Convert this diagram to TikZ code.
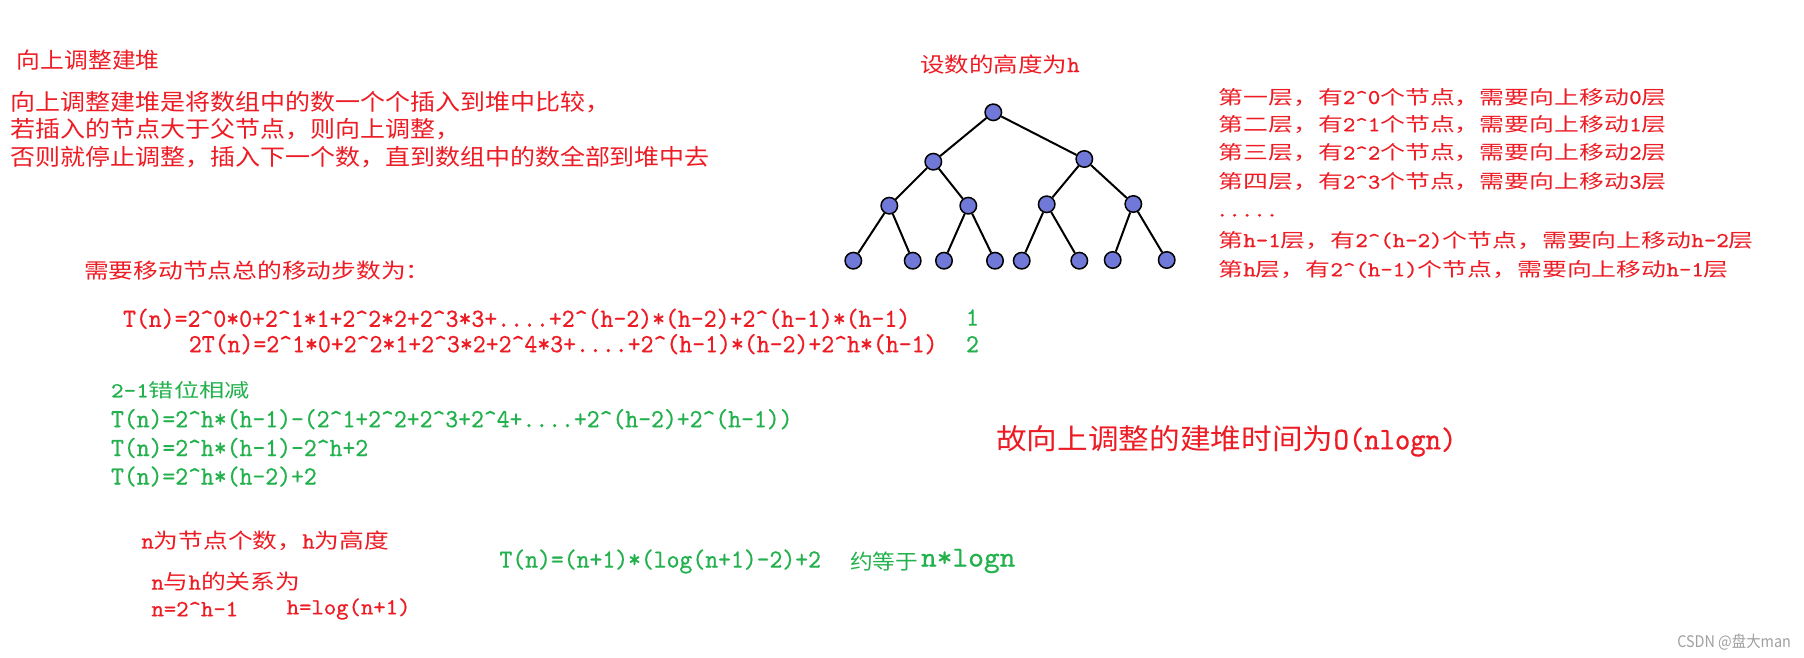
\documentclass[tikz,border=0pt]{standalone}
\usepackage{fontspec}
\setmainfont[Scale=1.113,FakeStretch=0.856,FakeBold=0.6]{lmmono10-regular.otf}
\newfontfamily\cj{Noto Sans CJK SC}
\newfontfamily\wm{Noto Sans CJK SC}
\newcommand\C[1]{{\cj #1}}
\newcommand\ca{\textasciicircum}
\newcommand\fs[1]{\fontsize{#1}{#1}\selectfont}
\definecolor{pr}{RGB}{237,28,36}
\definecolor{pg}{RGB}{34,177,76}
\definecolor{nb}{RGB}{112,120,216}
\definecolor{wg}{RGB}{160,160,160}
\tikzset{
  t/.style={anchor=west, inner sep=0pt, outer sep=0pt},
  tn/.style={circle, draw=black, line width=0.75pt, fill=nb, minimum size=8.25pt, inner sep=0pt},
  ed/.style={line width=1pt, black},
  par/.style={t, pr, font=\fs{11.35pt}, xscale=1.10},
  frm/.style={t, pr, font=\fs{11.75pt}, xscale=1.098},
  grn/.style={t, pg, font=\fs{11.75pt}, xscale=1.094},
  nh/.style={t, pr, font=\fs{10.4pt}, xscale=1.19},
  rb/.style={t, pr, font=\fs{9.5pt}, xscale=1.31},
}
\begin{document}
\begin{tikzpicture}[x=0.5pt, y=-0.5pt]
\fill[white] (0,0) rectangle (1804,658);
\useasboundingbox (0,0) rectangle (1804,658);

% left red texts
\node[t, pr, font=\fs{11pt}, xscale=1.08] (title) at (17,60.3) {\C{向上调整建堆}};
\node[par] (p1) at (10.7,101.7) {\C{向上调整建堆是将数组中的数一个个插入到堆中比较，}};
\node[par] (p2) at (10.7,129.2) {\C{若插入的节点大于父节点，则向上调整，}};
\node[par] (p3) at (10.7,156.7) {\C{否则就停止调整，插入下一个数，直到数组中的数全部到堆中去}};

\node[t, pr, font=\fs{10.4pt}, xscale=1.19] (need) at (84,270.8) {\C{需要移动节点总的移动步数为：}};

\node[frm] (f1) at (123,318.8) {T(n)=2\ca0*0+2\ca1*1+2\ca2*2+2\ca3*3+....+2\ca(h-2)*(h-2)+2\ca(h-1)*(h-1)};
\node[frm] (f2) at (188.9,344.2) {2T(n)=2\ca1*0+2\ca2*1+2\ca3*2+2\ca4*3+....+2\ca(h-1)*(h-2)+2\ca h*(h-1)};
\node[frm, pg] (n1) at (966,317.5) {1};
\node[frm, pg] (n2) at (966,344.2) {2};

% green derivation
\node[t, pg, font=\fs{9.5pt}, xscale=1.33] (g1) at (111,390) {2-1\C{错位相减}};
\node[grn] (g2) at (111,419.2) {T(n)=2\ca h*(h-1)-(2\ca1+2\ca2+2\ca3+2\ca4+....+2\ca(h-2)+2\ca(h-1))};
\node[grn] (g3) at (111,448) {T(n)=2\ca h*(h-1)-2\ca h+2};
\node[grn] (g4) at (111,476.5) {T(n)=2\ca h*(h-2)+2};

% n and h
\node[nh] (h1) at (141.5,540.8) {n\C{为节点个数，}h\C{为高度}};
\node[nh] (h2) at (151.5,581.7) {n\C{与}h\C{的关系为}};
\node[nh] (h3) at (151.5,609) {n=2\ca h-1};
\node[nh] (h4) at (286.7,609) {h=log(n+1)};

% final formula
\node[grn] (e1) at (499.5,561.5) {T(n)=(n+1)*(log(n+1)-2)+2};
\node[t, pg, font=\fs{10.4pt}, xscale=1.09] (e2) at (850,561.5) {\C{约等于}};
\node[t, pg, font=\fs{13pt}, xscale=1.21] (e3) at (921,561) {n*logn};

% tree
\node[t, pr, font=\fs{10.4pt}, xscale=1.18] (tt) at (920,64.2) {\C{设数的高度为}h};
\node[tn] (r) at (993.3,112.3) {};
\node[tn] (a) at (933.3,161.7) {};
\node[tn] (b) at (1084.3,159) {};
\node[tn] (c1) at (889.3,205.7) {};
\node[tn] (c2) at (968.3,205.7) {};
\node[tn] (c3) at (1046.7,204.3) {};
\node[tn] (c4) at (1133.3,204) {};
\node[tn] (d1) at (853.3,260.7) {};
\node[tn] (d2) at (912.7,260.7) {};
\node[tn] (d3) at (944,260.7) {};
\node[tn] (d4) at (995,260.7) {};
\node[tn] (d5) at (1021.7,260.7) {};
\node[tn] (d6) at (1079.3,260.7) {};
\node[tn] (d7) at (1112.7,260) {};
\node[tn] (d8) at (1166.7,260) {};
\draw[ed] (r) -- (a);
\draw[ed] (r) -- (b);
\draw[ed] (a) -- (c1);
\draw[ed] (a) -- (c2);
\draw[ed] (b) -- (c3);
\draw[ed] (b) -- (c4);
\draw[ed] (c1) -- (d1);
\draw[ed] (c1) -- (d2);
\draw[ed] (c2) -- (d3);
\draw[ed] (c2) -- (d4);
\draw[ed] (c3) -- (d5);
\draw[ed] (c3) -- (d6);
\draw[ed] (c4) -- (d7);
\draw[ed] (c4) -- (d8);

% right block
\node[rb] (l1) at (1218.5,97) {\C{第一层，有}2\ca0\C{个节点，需要向上移动}0\C{层}};
\node[rb] (l2) at (1218.5,124.2) {\C{第二层，有}2\ca1\C{个节点，需要向上移动}1\C{层}};
\node[rb] (l3) at (1218.5,152.5) {\C{第三层，有}2\ca2\C{个节点，需要向上移动}2\C{层}};
\node[rb] (l4) at (1218.5,181.7) {\C{第四层，有}2\ca3\C{个节点，需要向上移动}3\C{层}};
\node[rb] (l5) at (1216,215.3) {.....};
\node[rb] (l6) at (1218.5,240) {\C{第}h-1\C{层，有}2\ca(h-2)\C{个节点，需要向上移动}h-2\C{层}};
\node[rb] (l7) at (1218.5,269.2) {\C{第}h\C{层，有}2\ca(h-1)\C{个节点，需要向上移动}h-1\C{层}};

% conclusion
\node[t, pr, font=\fs{14.2pt}, xscale=1.08] (concl) at (996.2,441) {\C{故向上调整的建堆时间为}O(nlogn)};

% watermark
\node[t, wg, font=\wm\fs{8pt}, xscale=0.9] (wmk) at (1677.3,642) {CSDN @盘大man};
\end{tikzpicture}
\end{document}
